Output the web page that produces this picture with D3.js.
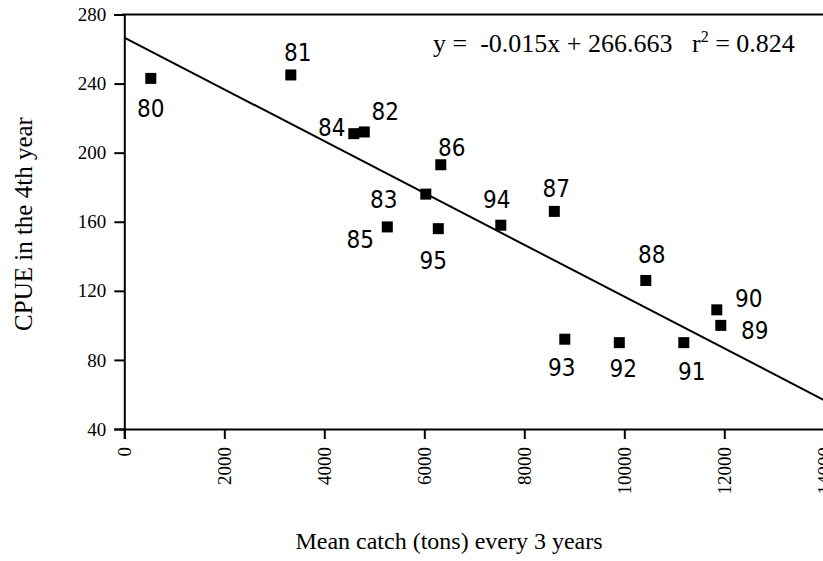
<!DOCTYPE html>
<html>
<head>
<meta charset="utf-8">
<script src="https://cdn.jsdelivr.net/npm/d3@7"></script>
<style>
  body { margin: 0; background: #fff; }
  svg { display: block; }
</style>
</head>
<body>
<div id="chart_cpue"></div>
<script>
// season labels and values
const years = ["80","81","82","83","84","85","86","87","88","89","90","91","92","93","94","95"];
const meanCatch = [530, 3330, 4800, 6030, 4590, 5260, 6330, 8600, 10430, 11930, 11850, 11190, 9900, 8810, 7530, 6280];
const cpue4th = [243, 245, 212, 176, 211, 157, 193, 166, 126, 100, 109, 90, 90, 92, 158, 156];

const xTicks = [0, 2000, 4000, 6000, 8000, 10000, 12000, 14000];
const yTicks = [40, 80, 120, 160, 200, 240, 280];

// fitted line printed on the chart
const fitSlope = -0.015;
const fitIntercept = 266.663;

(function cpue_scatter(){
  const margin = {top: 14.5, left: 124.3},
    width = 700,
    height = 414.5;

  const serif = "'Liberation Serif', 'Times New Roman', serif";

  const root = d3.select("#chart_cpue")
    .append("svg")
      .attr("width", 823)
      .attr("height", 561);

  const svg = root.append("g")
      .attr("transform", `translate(${margin.left}, ${margin.top})`);

  const x = d3.scaleLinear().domain([0, 14000]).range([0, width]);
  const y = d3.scaleLinear().domain([40, 280]).range([height, 0]);

  // top frame line
  svg.append("line")
    .attr("x1", -2).attr("x2", width)
    .attr("y1", 0).attr("y2", 0)
    .attr("stroke", "#000")
    .attr("stroke-width", 2);

  // x axis, labels turned up
  const gx = svg.append("g")
    .attr("transform", `translate(0, ${height})`)
    .call(d3.axisBottom(x).tickValues(xTicks).tickSize(10).tickFormat(d3.format("d")));
  gx.selectAll("text")
    .attr("transform", "rotate(-90)")
    .attr("text-anchor", "end")
    .attr("x", -18)
    .attr("y", 0)
    .attr("dy", "0.35em")
    .style("font-family", serif)
    .style("font-size", "19px")
    .style("fill", "#000");

  // y axis
  const gy = svg.append("g")
    .call(d3.axisLeft(y).tickValues(yTicks).tickSize(10).tickPadding(8));
  gy.selectAll("text")
    .style("font-family", serif)
    .style("font-size", "19px")
    .style("fill", "#000");

  [gx, gy].forEach(g => {
    g.select(".domain").attr("stroke-width", 2).attr("stroke", "#000");
    g.selectAll(".tick line").attr("stroke-width", 2).attr("stroke", "#000");
  });

  // regression line
  svg.append("line")
    .attr("x1", x(0)).attr("y1", y(fitIntercept))
    .attr("x2", x(14000)).attr("y2", y(fitIntercept + fitSlope * 14000))
    .attr("stroke", "#000")
    .attr("stroke-width", 2);

  const data = years.map((yr, i) => ({year: yr, c: meanCatch[i], v: cpue4th[i]}));

  // square markers
  const sq = 11;
  svg.selectAll("rect.pt")
    .data(data)
    .join("rect")
      .attr("class", "pt")
      .attr("x", d => x(d.c) - sq / 2)
      .attr("y", d => y(d.v) - sq / 2)
      .attr("width", sq)
      .attr("height", sq)
      .attr("fill", "#000");

  // where each year label sits next to its square
  const labelOffset = {
    "80": [0, 31], "81": [7, -22], "82": [21, -20], "83": [-42, 6],
    "84": [-22, -6], "85": [-27, 13], "86": [11, -17], "87": [2, -22],
    "88": [6, -25], "89": [34, 6], "90": [32, -11], "91": [8, 29],
    "92": [4, 26], "93": [-3, 29], "94": [-4, -25], "95": [-5, 32]
  };

  svg.selectAll("text.yr")
    .data(data)
    .join("text")
      .attr("class", "yr")
      .attr("x", d => x(d.c) + labelOffset[d.year][0])
      .attr("y", d => y(d.v) + labelOffset[d.year][1])
      .attr("text-anchor", "middle")
      .attr("dominant-baseline", "central")
      .style("font-family", "'DejaVu Sans Condensed', 'DejaVu Sans', sans-serif")
      .style("font-size", "24px")
      .style("fill", "#000")
      .text(d => d.year);

  // equation
  const eq = root.append("text")
    .attr("x", 433)
    .attr("y", 52)
    .style("font-family", serif)
    .style("font-size", "26px")
    .style("white-space", "pre")
    .style("fill", "#000");
  eq.append("tspan").text(`y =  ${fitSlope}x + ${fitIntercept}   r`);
  eq.append("tspan").attr("dy", -10).style("font-size", "16px").text("2");
  eq.append("tspan").attr("dy", 10).text(" = 0.824");

  // axis titles
  root.append("text")
    .attr("transform", "translate(32, 224) rotate(-90)")
    .attr("text-anchor", "middle")
    .style("font-family", serif)
    .style("font-size", "25px")
    .style("fill", "#000")
    .text("CPUE in the 4th year");

  root.append("text")
    .attr("x", 449)
    .attr("y", 549)
    .attr("text-anchor", "middle")
    .style("font-family", serif)
    .style("font-size", "24px")
    .style("fill", "#000")
    .text("Mean catch (tons) every 3 years");
})();
</script>
</body>
</html>
